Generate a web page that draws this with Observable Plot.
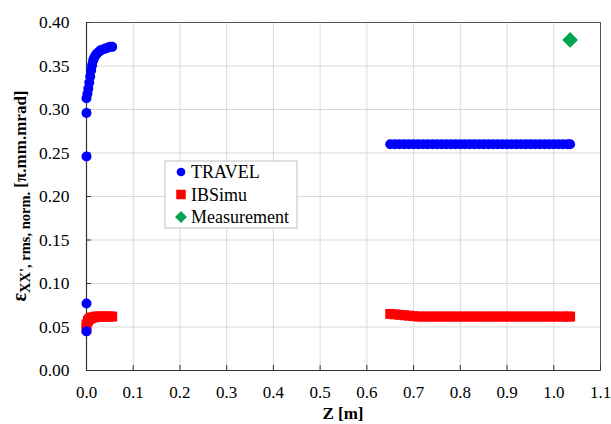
<!DOCTYPE html>
<html>
<head>
<meta charset="utf-8">
<script src="https://cdn.jsdelivr.net/npm/d3@7"></script>
<script src="https://cdn.jsdelivr.net/npm/@observablehq/plot@0.6"></script>
<style>
  html, body { margin: 0; padding: 0; background: #fff; }
  #chart svg text { font-family: 'Liberation Serif', 'Times New Roman', serif; }
</style>
</head>
<body>
<div id="chart"></div>
<script>
// ---- data ----
const seriesNames = ["TRAVEL", "IBSimu", "Measurement"];
const seriesColors = ["#0000ff", "#ff0000", "#00a550"];

const travelZ = [0, 0, 0, 0, 0, 0.002, 0.004, 0.006, 0.008, 0.010, 0.012, 0.014, 0.016, 0.019, 0.022, 0.026, 0.030, 0.035, 0.040, 0.045, 0.050, 0.055,
  0.650, 0.660, 0.670, 0.680, 0.690, 0.700, 0.710, 0.720, 0.730, 0.740, 0.750, 0.760, 0.770, 0.780, 0.790, 0.800, 0.810, 0.820, 0.830, 0.840,
  0.850, 0.860, 0.870, 0.880, 0.890, 0.900, 0.910, 0.920, 0.930, 0.940, 0.950, 0.960, 0.970, 0.980, 0.990, 1.000, 1.010, 1.020, 1.030, 1.035];
const travelY = [0.045, 0.077, 0.246, 0.296, 0.313, 0.318, 0.324, 0.331, 0.338, 0.345, 0.351, 0.356, 0.359, 0.362, 0.364, 0.366, 0.368, 0.369, 0.370, 0.371, 0.372, 0.372,
  0.260, 0.260, 0.260, 0.260, 0.260, 0.260, 0.260, 0.260, 0.260, 0.260, 0.260, 0.260, 0.260, 0.260, 0.260, 0.260, 0.260, 0.260, 0.260, 0.260,
  0.260, 0.260, 0.260, 0.260, 0.260, 0.260, 0.260, 0.260, 0.260, 0.260, 0.260, 0.260, 0.260, 0.260, 0.260, 0.260, 0.260, 0.260, 0.260, 0.260];

const ibsimuZ = [0, 0, 0.003, 0.006, 0.009, 0.012, 0.016, 0.020, 0.025, 0.030, 0.035, 0.040, 0.045, 0.050, 0.055,
  0.650, 0.660, 0.670, 0.680, 0.690, 0.700, 0.710, 0.720, 0.730, 0.740, 0.750, 0.760, 0.770, 0.780, 0.790, 0.800, 0.810, 0.820, 0.830, 0.840,
  0.850, 0.860, 0.870, 0.880, 0.890, 0.900, 0.910, 0.920, 0.930, 0.940, 0.950, 0.960, 0.970, 0.980, 0.990, 1.000, 1.010, 1.020, 1.030, 1.035];
const ibsimuY = [0.048, 0.053, 0.057, 0.059, 0.060, 0.061, 0.061, 0.062, 0.062, 0.062, 0.062, 0.062, 0.062, 0.062, 0.062,
  0.065, 0.0645, 0.064, 0.0635, 0.063, 0.0625, 0.062, 0.062, 0.062, 0.062, 0.062, 0.062, 0.062, 0.062, 0.062, 0.062, 0.062, 0.062, 0.062, 0.062,
  0.062, 0.062, 0.062, 0.062, 0.062, 0.062, 0.062, 0.062, 0.062, 0.062, 0.062, 0.062, 0.062, 0.062, 0.062, 0.062, 0.062, 0.062, 0.062, 0.062];

const measZ = [1.035];
const measY = [0.380];

const xTicks = [0, 0.1, 0.2, 0.3, 0.4, 0.5, 0.6, 0.7, 0.8, 0.9, 1.0, 1.1];
const yTicks = [0, 0.05, 0.10, 0.15, 0.20, 0.25, 0.30, 0.35, 0.40];
const xLabel = "Z [m]";
const yLabelMain = "ε";
const yLabelSub = "XX', rms, norm.";
const yLabelUnit = "[π.mm.mrad]";

// ---- build tables ----
const travel = travelZ.map((z, i) => ({z, v: travelY[i]}));
const ibsimu = ibsimuZ.map((z, i) => ({z, v: ibsimuY[i]}));
const meas = measZ.map((z, i) => ({z, v: measY[i]}));

const W = 611, H = 424;
const mL = 86, mR = 11, mT = 22, mB = 54;
const FONT = "'Liberation Serif', 'Times New Roman', serif";

const plot = Plot.plot({
  width: W, height: H,
  marginLeft: mL, marginRight: mR, marginTop: mT, marginBottom: mB,
  x: {domain: [0, 1.1]},
  y: {domain: [0, 0.4]},
  marks: [
    Plot.gridX(xTicks, {stroke: "#d9d9d9", strokeOpacity: 1}),
    Plot.gridY(yTicks, {stroke: "#d9d9d9", strokeOpacity: 1}),
    Plot.frame({stroke: "#555"}),
    Plot.ruleX([0], {stroke: "#333", strokeWidth: 1.2}),
    Plot.ruleY([0], {stroke: "#333", strokeWidth: 1.2}),
    Plot.tickX(xTicks, {x: d => d, stroke: "#333", insetTop: 343}),
    Plot.tickY(yTicks, {y: d => d, stroke: "#333", insetRight: 509}),
    Plot.axisX({ticks: xTicks, tickFormat: d3.format(".1f"), tickSize: 0, tickPadding: 15, label: null, fontSize: 17}),
    Plot.axisY({ticks: yTicks, tickFormat: d3.format(".2f"), tickSize: 0, tickPadding: 17, label: null, fontSize: 17.5}),
    Plot.dot(ibsimu, {x: "z", y: "v", symbol: "square", r: 5.6, fill: seriesColors[1], stroke: "none"}),
    Plot.dot(travel, {x: "z", y: "v", symbol: "circle", r: 5, fill: seriesColors[0], stroke: "none"}),
    Plot.dot(meas, {x: "z", y: "v", symbol: "square", r: 6.3, rotate: 45, fill: seriesColors[2], stroke: "none"})
  ]
});

document.getElementById("chart").appendChild(plot);
const svg = d3.select(plot);
svg.attr("font-family", FONT);
svg.selectAll("g[aria-label$='tick label']").attr("fill", "#000");

// x axis label
svg.append("text")
  .attr("x", (mL + (W - mR)) / 2)
  .attr("y", 419)
  .attr("text-anchor", "middle")
  .attr("font-family", FONT)
  .attr("font-weight", "bold")
  .attr("font-size", 17)
  .attr("fill", "#000")
  .text(xLabel);

// y axis label (rotated, with subscript)
const yl = svg.append("text")
  .attr("transform", `translate(26,${(mT + (H - mB)) / 2}) rotate(-90)`)
  .attr("text-anchor", "middle")
  .attr("font-family", FONT)
  .attr("font-weight", "bold")
  .attr("fill", "#000");
yl.append("tspan").attr("font-size", 20).text(yLabelMain);
yl.append("tspan").attr("font-size", 14.5).attr("dy", 4).text(yLabelSub);
yl.append("tspan").attr("font-size", 17).attr("dy", -4).text(" " + yLabelUnit);

// legend
const lg = svg.append("g").attr("transform", "translate(165,161)");
lg.append("rect").attr("width", 132).attr("height", 67)
  .attr("fill", "#fff").attr("stroke", "#bfbfbf").attr("stroke-width", 1);
const sym = [d3.symbolCircle, d3.symbolSquare, d3.symbolSquare];
const symSize = [60, 90, 70];
const symRot = [0, 0, 45];
seriesNames.forEach((name, i) => {
  const cy = 11 + i * 22.5;
  lg.append("path")
    .attr("d", d3.symbol(sym[i], symSize[i])())
    .attr("transform", `translate(16,${cy}) rotate(${symRot[i]})`)
    .attr("fill", seriesColors[i]);
  lg.append("text")
    .attr("x", 26).attr("y", cy + 6)
    .attr("text-anchor", "start")
    .attr("font-family", FONT)
    .attr("font-size", 18)
    .attr("fill", "#000")
    .text(name);
});
</script>
</body>
</html>
